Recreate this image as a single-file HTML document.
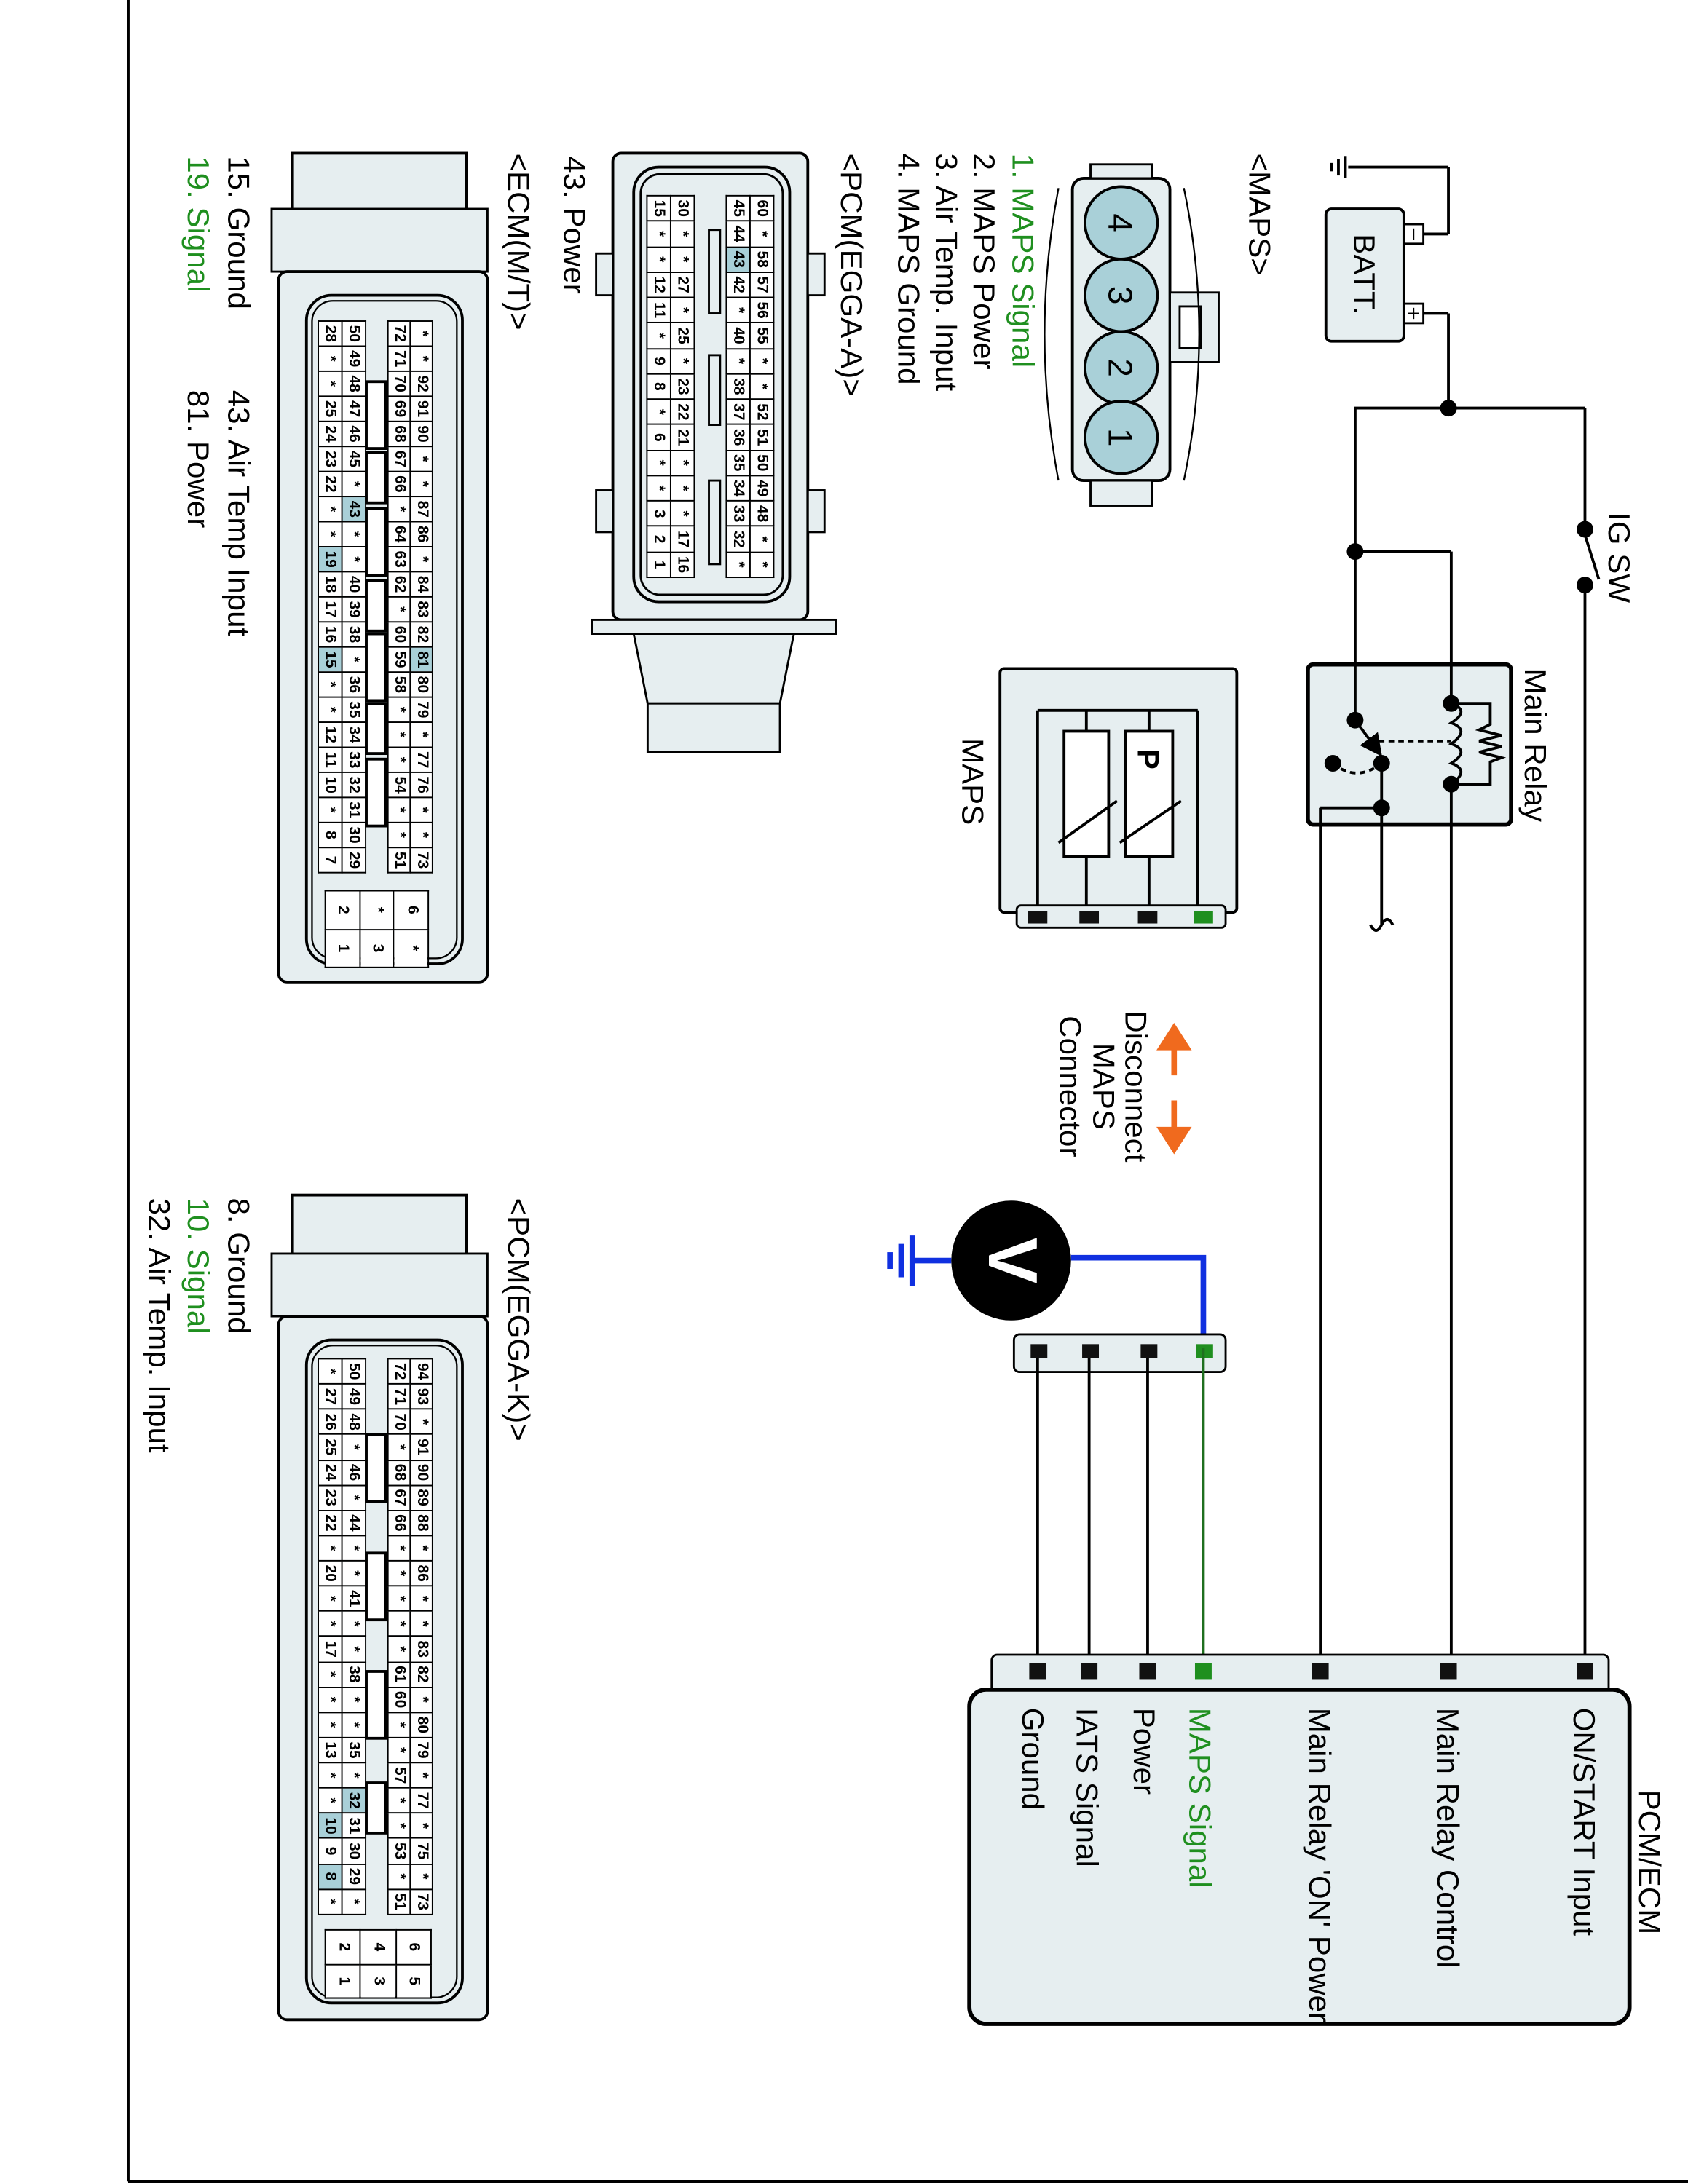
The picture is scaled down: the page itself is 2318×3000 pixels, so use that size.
<!DOCTYPE html>
<html><head><meta charset="utf-8"><style>
html,body{margin:0;padding:0;background:#fff;}
body{width:2318px;height:3000px;overflow:hidden;position:relative;}
#c{position:absolute;left:0;top:0;width:1568px;height:1212px;transform-origin:0 0;transform:translate(2318px,0) rotate(90deg) scale(1.9133,1.9125);font-family:"Liberation Sans",sans-serif;}
svg{position:absolute;left:0;top:0;}
.t{font-family:"Liberation Sans",sans-serif;font-size:22px;}
table.g{position:absolute;border-collapse:collapse;table-layout:fixed;font:bold 11px "Liberation Sans",sans-serif;}
table.g td{border:1.3px solid #000;padding:0;text-align:center;background:#fff;overflow:hidden;line-height:1;}
table.g td.h{background:#a9d0d8;}
</style></head><body>
<div id="c">
<svg width="1568" height="1212" viewBox="0 0 1568 1212">
<defs><marker id="ar" markerWidth="8" markerHeight="8" refX="6" refY="4" orient="auto"><path d="M0,0 L8,4 L0,8 z" fill="#000"/></marker></defs>
<!-- frame -->
<line x1="0" y1="1120" x2="1566" y2="1120" stroke="#000" stroke-width="2"/>
<line x1="1566" y1="0" x2="1566" y2="1120" stroke="#000" stroke-width="2"/>
<!-- relay box first -->
<rect x="477" y="127" width="115" height="146" rx="4" fill="#e6eef0" stroke="#000" stroke-width="3"/>
<g stroke="#000" stroke-width="2" fill="none">
<!-- ground & batt -->
<line x1="120" y1="244" x2="120" y2="172"/><line x1="120" y1="172" x2="168" y2="172"/><line x1="168" y1="172" x2="168" y2="197"/>
<line x1="112" y1="246" x2="128" y2="246"/><line x1="114" y1="251" x2="126" y2="251"/><line x1="117" y1="256" x2="123" y2="256"/>
<line x1="225" y1="197" x2="225" y2="172"/><line x1="225" y1="172" x2="293" y2="172"/>
<line x1="293" y1="240" x2="293" y2="74"/>
<line x1="293" y1="74" x2="380" y2="74"/><line x1="384" y1="74" x2="416" y2="64"/><line x1="420" y1="74" x2="1200" y2="74"/>
<line x1="293" y1="239" x2="517" y2="239"/>
<line x1="396" y1="239" x2="396" y2="170"/><line x1="396" y1="170" x2="505" y2="170"/>
<line x1="563" y1="170" x2="1200" y2="170"/>
<line x1="548" y1="220" x2="664" y2="220"/>
<line x1="580" y1="220" x2="580" y2="264"/><line x1="580" y1="264" x2="1200" y2="264"/>
<path d="M505,170 q5,-14 14,0 q5,-14 15,0 q5,-14 14,0 q5,-14 15,0"/>
<path d="M505,170 L505,142 L520,142 L524,150 L528,134 L532,150 L536,134 L540,150 L544,134 L547,142 L563,142 L563,170"/>
<line x1="517" y1="239" x2="540" y2="222" marker-end="url(#ar)"/>
<path d="M548,255 Q562,238 548,220" stroke-dasharray="4,3"/>
<line x1="532" y1="229" x2="532" y2="170" stroke-dasharray="4,3"/>
<path d="M664,212 q-8,4 0,8 q8,4 0,8"/>
</g>
<rect x="150" y="204" width="95" height="56" rx="4" fill="#e6eef0" stroke="#000" stroke-width="2"/>
<rect x="161" y="190" width="14" height="14" fill="#fff" stroke="#000" stroke-width="1.5"/>
<rect x="218" y="190" width="14" height="14" fill="#fff" stroke="#000" stroke-width="1.5"/>
<line x1="164" y1="197" x2="172" y2="197" stroke="#000"/><line x1="221" y1="197" x2="229" y2="197" stroke="#000"/><line x1="225" y1="193" x2="225" y2="201" stroke="#000"/>
<text x="197" y="240" class="t" text-anchor="middle">BATT.</text>
<g fill="#000"><circle cx="293" cy="172" r="6"/><circle cx="380" cy="74" r="6"/><circle cx="420" cy="74" r="6"/><circle cx="396" cy="239" r="6"/>
<circle cx="505" cy="170" r="6"/><circle cx="563" cy="170" r="6"/><circle cx="517" cy="239" r="6"/><circle cx="548" cy="220" r="6"/><circle cx="548" cy="255" r="6"/><circle cx="580" cy="220" r="6"/></g>
<text x="368" y="57" class="t">IG SW</text>
<text x="480" y="117" class="t">Main Relay</text>
<!-- MAPS box -->
<rect x="480" y="324" width="175" height="170" rx="3" fill="#e6eef0" stroke="#000" stroke-width="2"/>
<g stroke="#000" stroke-width="2" fill="none">
<line x1="510" y1="467" x2="652" y2="467"/><line x1="510" y1="467" x2="510" y2="352"/>
<line x1="510" y1="432" x2="525" y2="432"/><line x1="510" y1="387" x2="525" y2="387"/>
<rect x="525" y="416" width="90" height="32" fill="#fff"/><rect x="525" y="370" width="90" height="34" fill="#fff"/>
<line x1="615" y1="432" x2="652" y2="432"/><line x1="615" y1="387" x2="652" y2="387"/>
<line x1="510" y1="352" x2="652" y2="352"/>
<line x1="605" y1="452" x2="575" y2="410"/><line x1="605" y1="408" x2="575" y2="364"/>
</g>
<text x="545" y="395" class="t" font-weight="bold" text-anchor="middle">P</text>
<rect x="650" y="332" width="16" height="150" rx="3" fill="#e6eef0" stroke="#000" stroke-width="1.5"/>
<rect x="654" y="460" width="9" height="14" fill="#111"/><rect x="654" y="423" width="9" height="14" fill="#111"/><rect x="654" y="381" width="9" height="14" fill="#111"/><rect x="654" y="341" width="9" height="14" fill="#1f8f1f"/>
<text x="530" y="521" class="t">MAPS</text>
<!-- arrows & disconnect -->
<g stroke="#f06a1e" stroke-width="4" fill="#f06a1e">
<line x1="750" y1="369" x2="772" y2="369"/><path d="M738,369 L752,360 L752,378 z"/>
<line x1="790" y1="369" x2="812" y2="369"/><path d="M825,369 L811,360 L811,378 z"/>
</g>
<text x="780" y="404" class="t" text-anchor="middle">Disconnect</text>
<text x="780" y="427" class="t" text-anchor="middle">MAPS</text>
<text x="780" y="451" class="t" text-anchor="middle">Connector</text>
<!-- voltmeter -->
<g stroke="#1030e0" stroke-width="4" fill="none">
<path d="M903,443 L903,348 L968,348"/>
<line x1="905" y1="529" x2="905" y2="557"/>
<line x1="887" y1="557" x2="923" y2="557"/><line x1="893" y1="565" x2="917" y2="565"/><line x1="899" y1="573" x2="911" y2="573"/>
</g>
<circle cx="905" cy="486" r="43" fill="#000"/>
<text x="905" y="502" font-family="Liberation Sans" font-weight="bold" font-size="50" fill="#fff" text-anchor="middle">V</text>
<!-- connector strip -->
<rect x="958" y="332" width="27" height="152" rx="4" fill="#e6eef0" stroke="#000" stroke-width="1.5"/>
<rect x="965" y="460" width="10" height="12" fill="#111"/><rect x="965" y="423" width="10" height="12" fill="#111"/><rect x="965" y="381" width="10" height="12" fill="#111"/><rect x="965" y="341" width="10" height="12" fill="#1f8f1f"/>
<g stroke="#000" stroke-width="2"><line x1="975" y1="467" x2="1200" y2="467"/><line x1="975" y1="430" x2="1200" y2="430"/><line x1="975" y1="388" x2="1200" y2="388"/><line x1="968" y1="348" x2="1200" y2="348" stroke="#1f6f1f"/></g>
<!-- PCM/ECM -->
<rect x="1188" y="57" width="30" height="443" rx="4" fill="#e6eef0" stroke="#000" stroke-width="1.5"/>
<rect x="1213" y="42" width="240" height="474" rx="12" fill="#e6eef0" stroke="#000" stroke-width="3"/>
<g fill="#111"><rect x="1194" y="68" width="12" height="12"/><rect x="1194" y="166" width="12" height="12"/><rect x="1194" y="258" width="12" height="12"/><rect x="1194" y="382" width="12" height="12"/><rect x="1194" y="424" width="12" height="12"/><rect x="1194" y="461" width="12" height="12"/></g>
<rect x="1194" y="342" width="12" height="12" fill="#1f8f1f"/>
<text x="1285" y="35" class="t">PCM/ECM</text>
<text x="1226" y="82" class="t" font-size="21">ON/START Input</text>
<text x="1226" y="180" class="t" font-size="21">Main Relay Control</text>
<text x="1226" y="272" class="t" font-size="21">Main Relay 'ON' Power</text>
<text x="1226" y="358" class="t" font-size="21" fill="#1f8f1f">MAPS Signal</text>
<text x="1226" y="398" class="t" font-size="21">Power</text>
<text x="1226" y="439" class="t" font-size="21">IATS Signal</text>
<text x="1226" y="478" class="t" font-size="21">Ground</text>
<!-- MAPS connector -->
<text x="110" y="315" class="t">&lt;MAPS&gt;</text>
<rect x="128" y="372" width="217" height="70" rx="8" fill="#e6eef0" stroke="#000" stroke-width="2"/>
<rect x="118" y="385" width="10" height="44" fill="#e6eef0" stroke="#000" stroke-width="1.5"/>
<rect x="345" y="385" width="18" height="44" fill="#e6eef0" stroke="#000" stroke-width="1.5"/>
<rect x="210" y="337" width="50" height="35" fill="#e6eef0" stroke="#000" stroke-width="1.5"/>
<rect x="220" y="350" width="30" height="15" fill="#fff" stroke="#000" stroke-width="1.5"/>
<path d="M135,362 Q240,340 345,362" fill="none" stroke="#000" stroke-width="1.2"/>
<path d="M135,452 Q240,472 345,452" fill="none" stroke="#000" stroke-width="1.2"/>
<g fill="#a9d0d8" stroke="#000" stroke-width="2"><circle cx="160" cy="407" r="26"/><circle cx="212" cy="407" r="26"/><circle cx="264" cy="407" r="26"/><circle cx="314" cy="407" r="26"/></g>
<g font-family="Liberation Sans" font-size="24" text-anchor="middle"><text x="160" y="416">4</text><text x="212" y="416">3</text><text x="264" y="416">2</text><text x="314" y="416">1</text></g>
<text x="110" y="485" class="t" fill="#1f8f1f" font-size="24">1. MAPS Signal</text>
<text x="110" y="513" class="t">2. MAPS Power</text>
<text x="110" y="540" class="t">3. Air Temp. Input</text>
<text x="110" y="567" class="t">4. MAPS Ground</text>
<text x="110" y="608" class="t">&lt;PCM(EGGA-A)&gt;</text>
<text x="112" y="807" class="t">43. Power</text>
<!-- EGGA-A body -->
<rect x="110" y="632" width="335" height="140" rx="6" fill="#e6eef0" stroke="#000" stroke-width="2"/>
<rect x="120" y="645" width="312" height="112" rx="18" fill="none" stroke="#000" stroke-width="2"/>
<rect x="125" y="650" width="302" height="102" rx="14" fill="none" stroke="#000" stroke-width="1.5"/>
<rect x="182" y="620" width="30" height="12" fill="#e6eef0" stroke="#000" stroke-width="1.5"/>
<rect x="352" y="620" width="30" height="12" fill="#e6eef0" stroke="#000" stroke-width="1.5"/>
<rect x="182" y="772" width="30" height="12" fill="#e6eef0" stroke="#000" stroke-width="1.5"/>
<rect x="352" y="772" width="30" height="12" fill="#e6eef0" stroke="#000" stroke-width="1.5"/>
<rect x="445" y="612" width="10" height="175" fill="#e6eef0" stroke="#000" stroke-width="1.5"/>
<path d="M455,642 L505,652 L505,747 L455,757 z" fill="#e6eef0" stroke="#000" stroke-width="1.5"/>
<rect x="505" y="652" width="35" height="95" fill="#e6eef0" stroke="#000" stroke-width="1.5"/>
<g fill="#e6eef0" stroke="#000" stroke-width="1.5"><rect x="165" y="695" width="60" height="8"/><rect x="255" y="695" width="50" height="8"/><rect x="345" y="695" width="60" height="8"/></g>
<!-- ECM M/T -->
<text x="110" y="847" class="t">&lt;ECM(M/T)&gt;</text>
<text x="112" y="1048" class="t">15. Ground</text>
<text x="112" y="1077" class="t" fill="#1f8f1f">19. Signal</text>
<text x="280" y="1048" class="t">43. Air Temp Input</text>
<text x="280" y="1077" class="t">81. Power</text>
<rect x="110" y="877" width="85" height="125" fill="#e6eef0" stroke="#000" stroke-width="2"/>
<rect x="150" y="862" width="45" height="155" fill="#e6eef0" stroke="#000" stroke-width="1.5"/>
<rect x="195" y="862" width="510" height="150" rx="6" fill="#e6eef0" stroke="#000" stroke-width="2"/>
<rect x="212" y="880" width="480" height="112" rx="18" fill="none" stroke="#000" stroke-width="2"/>
<rect x="216" y="884" width="472" height="104" rx="15" fill="none" stroke="#000" stroke-width="1.2"/>
<g fill="#fff" stroke="#000" stroke-width="2"><rect x="274" y="935" width="48" height="14"/><rect x="325" y="935" width="36" height="14"/><rect x="365" y="935" width="48" height="14"/><rect x="417" y="935" width="36" height="14"/><rect x="455" y="935" width="48" height="14"/><rect x="505" y="935" width="36" height="14"/><rect x="545" y="935" width="48" height="14"/></g>
<!-- EGGA-K -->
<text x="860" y="847" class="t">&lt;PCM(EGGA-K)&gt;</text>
<text x="860" y="1048" class="t">8. Ground</text>
<text x="860" y="1077" class="t" fill="#1f8f1f">10. Signal</text>
<text x="860" y="1105" class="t">32. Air Temp. Input</text>
<rect x="858" y="877" width="87" height="125" fill="#e6eef0" stroke="#000" stroke-width="2"/>
<rect x="900" y="862" width="45" height="155" fill="#e6eef0" stroke="#000" stroke-width="1.5"/>
<rect x="945" y="862" width="505" height="150" rx="6" fill="#e6eef0" stroke="#000" stroke-width="2"/>
<rect x="962" y="880" width="476" height="112" rx="18" fill="none" stroke="#000" stroke-width="2"/>
<rect x="966" y="884" width="468" height="104" rx="15" fill="none" stroke="#000" stroke-width="1.2"/>
<g fill="#fff" stroke="#000" stroke-width="2"><rect x="1030" y="935" width="48" height="14"/><rect x="1115" y="935" width="48" height="14"/><rect x="1200" y="935" width="48" height="14"/><rect x="1280" y="935" width="36" height="14"/></g>
</svg>

<!-- EGGA-A grids -->
<table class="g" style="left:140px;top:656px;width:275px;height:34px">
<tr style="height:17px"><td>60</td><td>*</td><td>58</td><td>57</td><td>56</td><td>55</td><td>*</td><td>*</td><td>52</td><td>51</td><td>50</td><td>49</td><td>48</td><td>*</td><td>*</td></tr>
<tr style="height:17px"><td>45</td><td>44</td><td class="h">43</td><td>42</td><td>*</td><td>40</td><td>*</td><td>38</td><td>37</td><td>36</td><td>35</td><td>34</td><td>33</td><td>32</td><td>*</td></tr>
</table>
<table class="g" style="left:140px;top:713px;width:275px;height:34px">
<tr style="height:17px"><td>30</td><td>*</td><td>*</td><td>27</td><td>*</td><td>25</td><td>*</td><td>23</td><td>22</td><td>21</td><td>*</td><td>*</td><td>*</td><td>17</td><td>16</td></tr>
<tr style="height:17px"><td>15</td><td>*</td><td>*</td><td>12</td><td>11</td><td>*</td><td>9</td><td>8</td><td>*</td><td>6</td><td>*</td><td>*</td><td>3</td><td>2</td><td>1</td></tr>
</table>

<!-- ECM M/T grids -->
<table class="g" style="left:230px;top:901px;width:397px;height:32px">
<tr style="height:16px"><td>*</td><td>*</td><td>92</td><td>91</td><td>90</td><td>*</td><td>*</td><td>87</td><td>86</td><td>*</td><td>84</td><td>83</td><td>82</td><td class="h">81</td><td>80</td><td>79</td><td>*</td><td>77</td><td>76</td><td>*</td><td>*</td><td>73</td></tr>
<tr style="height:16px"><td>72</td><td>71</td><td>70</td><td>69</td><td>68</td><td>67</td><td>66</td><td>*</td><td>64</td><td>63</td><td>62</td><td>*</td><td>60</td><td>59</td><td>58</td><td>*</td><td>*</td><td>*</td><td>54</td><td>*</td><td>*</td><td>51</td></tr>
</table>
<table class="g" style="left:230px;top:949px;width:397px;height:34px">
<tr style="height:17px"><td>50</td><td>49</td><td>48</td><td>47</td><td>46</td><td>45</td><td>*</td><td class="h">43</td><td>*</td><td>*</td><td>40</td><td>39</td><td>38</td><td>*</td><td>36</td><td>35</td><td>34</td><td>33</td><td>32</td><td>31</td><td>30</td><td>29</td></tr>
<tr style="height:17px"><td>28</td><td>*</td><td>*</td><td>25</td><td>24</td><td>23</td><td>22</td><td>*</td><td>*</td><td class="h">19</td><td>18</td><td>17</td><td>16</td><td class="h">15</td><td>*</td><td>*</td><td>12</td><td>11</td><td>10</td><td>*</td><td>8</td><td>7</td></tr>
</table>
<table class="g" style="left:639px;top:904px;width:56px;height:75px">
<tr><td>6</td><td>*</td></tr><tr><td>*</td><td>3</td></tr><tr><td>2</td><td>1</td></tr>
</table>

<!-- EGGA-K grids -->
<table class="g" style="left:975px;top:901px;width:400px;height:32px">
<tr style="height:16px"><td>94</td><td>93</td><td>*</td><td>91</td><td>90</td><td>89</td><td>88</td><td>*</td><td>86</td><td>*</td><td>*</td><td>83</td><td>82</td><td>*</td><td>80</td><td>79</td><td>*</td><td>77</td><td>*</td><td>75</td><td>*</td><td>73</td></tr>
<tr style="height:16px"><td>72</td><td>71</td><td>70</td><td>*</td><td>68</td><td>67</td><td>66</td><td>*</td><td>*</td><td>*</td><td>*</td><td>*</td><td>61</td><td>60</td><td>*</td><td>*</td><td>57</td><td>*</td><td>*</td><td>53</td><td>*</td><td>51</td></tr>
</table>
<table class="g" style="left:975px;top:949px;width:400px;height:34px">
<tr style="height:17px"><td>50</td><td>49</td><td>48</td><td>*</td><td>46</td><td>*</td><td>44</td><td>*</td><td>*</td><td>41</td><td>*</td><td>*</td><td>38</td><td>*</td><td>*</td><td>35</td><td>*</td><td class="h">32</td><td>31</td><td>30</td><td>29</td><td>*</td></tr>
<tr style="height:17px"><td>*</td><td>27</td><td>26</td><td>25</td><td>24</td><td>23</td><td>22</td><td>*</td><td>20</td><td>*</td><td>*</td><td>17</td><td>*</td><td>*</td><td>*</td><td>13</td><td>*</td><td>*</td><td class="h">10</td><td>9</td><td class="h">8</td><td>*</td></tr>
</table>
<table class="g" style="left:1385px;top:902px;width:50px;height:77px">
<tr><td>6</td><td>5</td></tr><tr><td>4</td><td>3</td></tr><tr><td>2</td><td>1</td></tr>
</table>
</div>
</body></html>
